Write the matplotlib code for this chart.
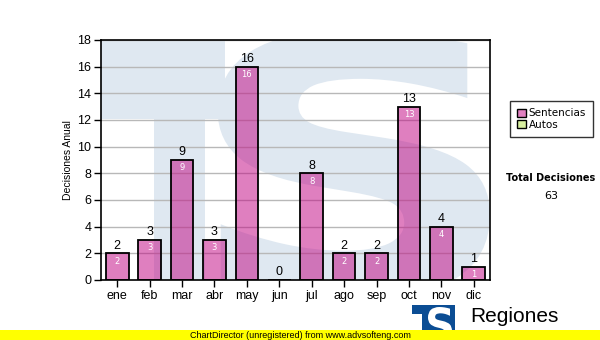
import matplotlib
matplotlib.use("Agg")
import matplotlib.pyplot as plt
from matplotlib.patches import Rectangle, PathPatch, Patch
from matplotlib.textpath import TextPath
from matplotlib.font_manager import FontProperties
from matplotlib.transforms import Affine2D

months = ['ene', 'feb', 'mar', 'abr', 'may', 'jun', 'jul', 'ago', 'sep', 'oct', 'nov', 'dic']
sentencias = [2, 3, 9, 3, 16, 0, 8, 2, 2, 13, 4, 1]
autos = [0, 0, 0, 0, 0, 0, 0, 0, 0, 0, 0, 0]
yticks = [0, 2, 4, 6, 8, 10, 12, 14, 16, 18]

W, H = 600, 340
fig = plt.figure(figsize=(6, 3.4), dpi=100)
fig.patch.set_facecolor('white')
ax = fig.add_axes([101 / W, 1 - 280 / H, 389 / W, 240 / H])
ax.set_facecolor('white')

WM = '#dfe8f1'


def s_patch(bbox, color, transform, zorder):
    fp = FontProperties(family='DejaVu Sans', weight='bold')
    tp = TextPath((0, 0), 'S', size=100, prop=fp)
    ext = tp.get_extents()
    x0, y0, x1, y1 = bbox
    tr = Affine2D().translate(-ext.x0, -ext.y0).scale((x1 - x0) / ext.width, (y1 - y0) / ext.height).translate(x0, y0)
    p = tr.transform_path(tp)
    return PathPatch(p, facecolor=color, edgecolor='none', transform=transform, zorder=zorder)

# watermark "TS" logo
ax.add_patch(Rectangle((0, 0.671), 0.319, 0.329, facecolor=WM, edgecolor='none', transform=ax.transAxes, zorder=0))
ax.add_patch(Rectangle((0.136, 0), 0.131, 1, facecolor=WM, edgecolor='none', transform=ax.transAxes, zorder=0))
ax.add_patch(s_patch((0.30, -0.08, 1.0, 1.04), WM, ax.transAxes, 0))

x = list(range(len(months)))
ax.bar(x, sentencias, width=0.7, color='#c10181', alpha=0.5, edgecolor='none', zorder=2)
ax.bar(x, sentencias, width=0.7, facecolor='none', edgecolor='black', linewidth=1.3, zorder=3)
ax.bar(x, autos, bottom=sentencias, width=0.7, color='#d8f0a0', edgecolor='none', linewidth=0, zorder=2)

for xi, v in zip(x, sentencias):
    ax.text(xi, v + 0.12, str(v), ha='center', va='bottom', fontsize=9,
            family='Liberation Sans', color='black', zorder=5)
    if v > 0:
        ax.text(xi, v - 0.25, str(v), ha='center', va='top', fontsize=6,
                family='DejaVu Sans', color='white', zorder=5)

ax.set_xlim(-0.5, 11.5)
ax.set_ylim(0, 18)
ax.set_yticks(yticks)
ax.set_yticklabels([str(t) for t in yticks], family='Liberation Sans', fontsize=9)
ax.set_xticks(x)
ax.set_xticklabels(months, family='Liberation Sans', fontsize=9)
ax.tick_params(axis='both', direction='out', length=5, width=1, color='black', pad=2)
ax.yaxis.grid(True, color='#b8b8b8', linewidth=1, zorder=1)
ax.set_axisbelow(True)
for s in ax.spines.values():
    s.set_color('black')
    s.set_linewidth(1.2)
    s.set_zorder(6)
ax.set_ylabel('Decisiones Anual', family='Liberation Sans', fontsize=7.5, labelpad=3)

# legend
handles = [Patch(facecolor='#e080c0', edgecolor='black', label='Sentencias'),
           Patch(facecolor='#d8f0a0', edgecolor='black', label='Autos')]
leg = fig.legend(handles=handles, loc='upper left', bbox_to_anchor=(510 / W, 1 - 101 / H),
                 frameon=True, fancybox=False, edgecolor='black', fontsize=7.5,
                 handlelength=0.8, handleheight=0.8, handletextpad=0.3,
                 borderpad=0.7, labelspacing=0.15, borderaxespad=0)
leg.get_frame().set_linewidth(1)

total = sum(sentencias) + sum(autos)
fig.text(551 / W, 1 - 178 / H, 'Total Decisiones', ha='center', va='center',
         fontsize=7, fontweight='bold', family='DejaVu Sans')
fig.text(551 / W, 1 - 196 / H, str(total), ha='center', va='center',
         fontsize=8, family='DejaVu Sans')

# bottom logo
LB = '#0b4d94'
fig.patches.append(Rectangle((412 / W, 0), 43 / W, 35 / H, facecolor=LB, edgecolor='none',
                             transform=fig.transFigure, figure=fig, zorder=1))
fig.patches.append(Rectangle((412 / W, 0), 10 / W, 26 / H, facecolor='white', edgecolor='none',
                             transform=fig.transFigure, figure=fig, zorder=2))
fig.patches.append(s_patch((428 / W, -2 / H, 452 / W, 33 / H), 'white', fig.transFigure, 2))
fig.text(470 / W, 1 - 316 / H, 'Regiones', ha='left', va='center', fontsize=15,
         family='Liberation Sans', color='black')

# yellow band
fig.patches.append(Rectangle((0, 0), 1, 10 / H, facecolor='#ffff00', edgecolor='none',
                             transform=fig.transFigure, figure=fig, zorder=5))
fig.text(190 / W, 5 / H, 'ChartDirector (unregistered) from www.advsofteng.com', ha='left',
         va='center', fontsize=6.5, family='Liberation Sans', color='black', zorder=6)

fig.savefig('out.png', dpi=100)
